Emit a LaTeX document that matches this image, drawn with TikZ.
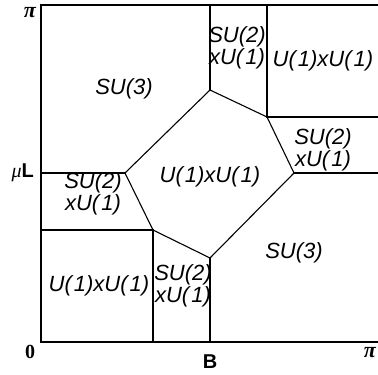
\documentclass[tikz,border=0pt]{standalone}
\usepackage{fontspec}
\setmainfont{Liberation Sans}
\newfontfamily\axisserif{Liberation Serif}
\usetikzlibrary{positioning}

\newcommand{\phOne}{\kern2pt 1}

\begin{document}
\begin{tikzpicture}[x=1pt, y=1pt,
    frameLine/.style={line width=1.6pt},
    phaseLine/.style={line width=1.1pt},
    phaseLabel/.style={font=\fontsize{22}{19}\selectfont\itshape, align=center, inner sep=0pt},
    axisLabel/.style={font=\fontsize{20}{20}\selectfont\axisserif\bfseries, inner sep=0pt},
    piLabel/.style={font=\fontsize{22}{22}\selectfont\axisserif\bfseries\itshape, inner sep=0pt},
    sideLabel/.style={font=\fontsize{20}{20}\selectfont\bfseries, inner sep=0pt}
]
    \useasboundingbox (0,0) rectangle (378,375);

    % Rahmen
    \coordinate (O)  at (41,33);
    \coordinate (TL) at (41,370);
    \coordinate (TR) at (380,370);
    \coordinate (BR) at (380,33);
    \draw[frameLine] (TR) -- (TL) -- (O) -- (BR);

    % Sechseck in der Mitte
    \coordinate (hA) at (125,202);
    \coordinate (hB) at (210,285);
    \coordinate (hC) at (267,258);
    \coordinate (hD) at (294,202);
    \coordinate (hE) at (210,117);
    \coordinate (hF) at (153,145);
    \draw[phaseLine] (hA) -- (hB) -- (hC) -- (hD) -- (hE) -- (hF) -- cycle;

    % Grenzen zum Rand
    \coordinate (lA) at (41,202);
    \coordinate (lF) at (41,145);
    \coordinate (bF) at (153,33);
    \coordinate (bE) at (210,33);
    \coordinate (tB) at (210,370);
    \coordinate (tC) at (267,370);
    \coordinate (rC) at (380,258);
    \coordinate (rD) at (380,202);
    \draw[phaseLine] (lA) -- (hA);
    \draw[phaseLine] (lF) -- (hF) -- (bF);
    \draw[phaseLine] (hE) -- (bE);
    \draw[phaseLine] (hB) -- (tB);
    \draw[phaseLine] (tC) -- (hC) -- (rC);
    \draw[phaseLine] (hD) -- (rD);

    % Phasen
    \node[phaseLabel] (su3top)  at (124,286) {SU(3)};
    \node[phaseLabel] (su2top)  at (237,327) {SU(2)\\xU(\phOne)};
    \node[phaseLabel] (u1top)   at (323,314) {U(\phOne)xU(\phOne)};
    \node[phaseLabel] (su2rt)   at (323,225) {SU(2)\\xU(\phOne)};
    \node[phaseLabel] (u1mid)   at (210,198) {U(\phOne)xU(\phOne)};
    \node[phaseLabel] (su2lt)   at (93,181)  {SU(2)\\xU(\phOne)};
    \node[phaseLabel] (u1bot)   at (99,89)   {U(\phOne)xU(\phOne)};
    \node[phaseLabel] (su2bot)  at (183,89)  {SU(2)\\xU(\phOne)};
    \node[phaseLabel] (su3bot)  at (294,122) {SU(3)};

    % Achsen
    \node[piLabel] (piTop)  at (30,362) {π};
    \node[axisLabel] (zero) at (30,23)  {0};
    \node[piLabel] (piBot)  at (370,22) {π};
    \node[sideLabel] (bAxis) at (210,13) {B};
    \node[sideLabel, anchor=east] (muL) at (34,202) {{\axisserif\mdseries\itshape μ}L};
\end{tikzpicture}
\end{document}
